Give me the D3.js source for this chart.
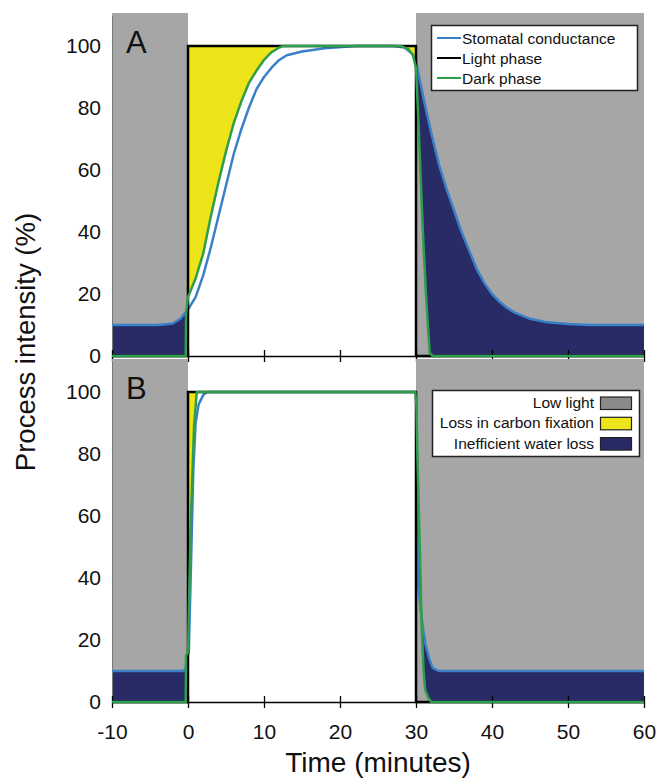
<!DOCTYPE html>
<html>
<head>
<meta charset="utf-8">
<script src="https://cdn.jsdelivr.net/npm/d3@7"></script>
<style>
body { margin: 0; background: #fff; }
svg { display: block; font-family: "Liberation Sans", Arial, sans-serif; }
</style>
</head>
<body>
<div id="chart"></div>
<script>
// data: [time (min), intensity (%)]
var timeTicks = [-10, 0, 10, 20, 30, 40, 50, 60];
var intensityTicks = [0, 20, 40, 60, 80, 100];
var lowLight = [[-10, 0], [30, 60]];
var lightPhase = [[-10, 0], [0, 0], [0, 100], [30, 100], [30, 0], [60, 0]];

var stomatalA = [[-10, 10], [-4, 10], [-2, 10.5], [-1, 12], [0, 15], [1, 19], [2, 26], [3, 35], [4, 45],
    [5, 55], [6, 65], [7, 73], [8, 80], [9, 86], [10, 90], [11, 93], [12, 95.5], [13, 97], [15, 98.2],
    [18, 99.3], [22, 100], [27, 100], [28.5, 99.5], [29.5, 97.5], [30, 95], [31, 83], [32, 72], [33, 62],
    [34, 54], [35, 47], [36, 40], [37, 34], [38, 28], [39, 23.5], [40, 20], [41, 17.5], [42, 15.5],
    [43, 14], [45, 12], [47, 11], [50, 10.3], [53, 10], [60, 10]];
var darkA = [[-10, 0], [-0.3, 0], [-0.25, 14], [0, 19], [1, 25], [2, 33], [3, 45], [4, 56], [5, 66],
    [6, 75], [7, 82], [8, 88], [9, 92], [10, 95.5], [11, 98], [12, 99.5], [12.5, 100], [28, 100],
    [29, 99], [29.6, 97], [30, 93], [30.3, 77], [30.7, 52], [31, 35], [31.4, 16], [31.8, 1], [32.2, 0],
    [60, 0]];

var stomatalB = [[-10, 10], [-0.6, 10], [-0.3, 11], [-0.2, 14], [0.1, 16], [0.4, 45], [0.7, 75],
    [1, 90], [1.4, 96], [2, 99], [2.5, 100], [30, 100], [30.1, 88], [30.2, 60], [30.3, 38], [30.6, 30],
    [30.9, 24], [31.3, 18], [31.8, 13.5], [32.2, 11], [33, 10], [60, 10]];
var darkB = [[-10, 0], [-0.3, 0], [-0.25, 15], [0, 16], [0.35, 57], [0.8, 89], [1.15, 100],
    [29.9, 100], [30.05, 96], [30.2, 78], [30.5, 50], [30.75, 24], [31, 10], [31.2, 4], [31.6, 1.5],
    [32, 0], [60, 0]];

var lineLegend = ["Stomatal conductance", "Light phase", "Dark phase"];
var areaLegend = ["Low light", "Loss in carbon fixation", "Inefficient water loss"];

var colGray = "#a6a6a6";
var colYellow = "#ede51a";
var colNavy = "#292b66";
var colBlue = "#3a80c8";
var colGreen = "#2f9e4a";
var lineColors = [colBlue, "#000", colGreen];
var areaColors = ["#8a8a8a", colYellow, colNavy];

var width = 659, height = 780;
var svg = d3.select("#chart").append("svg")
    .attr("width", width)
    .attr("height", height);

var x = d3.scaleLinear().domain([-10, 60]).range([112, 644]);
var yA = d3.scaleLinear().domain([0, 110]).range([356, 15]);
var yB = d3.scaleLinear().domain([0, 110]).range([702, 361]);

function drawPanel(y, stom, dark, label, showLabels) {
    var g = svg.append("g");
    var line = d3.line().x(function(d) { return x(d[0]); }).y(function(d) { return y(d[1]); });

    // low light background
    g.selectAll("rect.low")
        .data(lowLight)
        .enter()
        .append("rect")
        .attr("x", function(d) { return x(d[0]); })
        .attr("width", function(d) { return x(d[1]) - x(d[0]); })
        .attr("y", y.range()[1] - 2)
        .attr("height", y.range()[0] - y.range()[1] + 2)
        .attr("fill", colGray);

    // loss in carbon fixation: between light phase (100) and dark phase
    var lit = dark.filter(function(d) { return d[0] >= 0 && d[0] <= 30; });
    g.append("path")
        .attr("d", d3.area()
            .x(function(d) { return x(d[0]); })
            .y0(function(d) { return y(d[1]); })
            .y1(y(100))(lit))
        .attr("fill", colYellow);

    // inefficient water loss: between stomatal conductance and dark phase, in the dark
    function between(lo, hi) {
        var inside = function(d) { return d[0] >= lo && d[0] <= hi; };
        return line(stom.filter(inside).concat(dark.filter(inside).reverse())) + "Z";
    }
    g.append("path").attr("d", between(-10, -0.25)).attr("fill", colNavy);
    g.append("path").attr("d", between(30, 60)).attr("fill", colNavy);

    // y axis
    var yAxis = g.append("g")
        .attr("transform", "translate(" + x(-10) + ",0)")
        .call(d3.axisLeft(y).tickValues(intensityTicks).tickSize(0).tickPadding(11));
    yAxis.select(".domain").attr("stroke", "#777").attr("stroke-width", 1);
    yAxis.selectAll("text").attr("font-size", 21).attr("fill", "#111")
        .style("font-family", "Liberation Sans, Arial, sans-serif");

    // x axis
    var xAxis = g.append("g")
        .attr("transform", "translate(0," + y(0) + ")")
        .call(d3.axisBottom(x).tickValues(timeTicks).tickSize(6).tickSizeOuter(0)
            .tickFormat(function(d) { return showLabels ? String(d) : ""; }));
    xAxis.select(".domain").attr("stroke", "#000").attr("stroke-width", 1.5);
    xAxis.selectAll(".tick line").attr("y1", -6).attr("y2", 6).attr("stroke", "#000").attr("stroke-width", 1.3);
    xAxis.selectAll("text").attr("font-size", 21).attr("fill", "#111").attr("y", 22)
        .style("font-family", "Liberation Sans, Arial, sans-serif");

    // curves
    g.append("path").attr("d", line(stom)).attr("fill", "none")
        .attr("stroke", colBlue).attr("stroke-width", 2.5).attr("stroke-linejoin", "round");
    g.append("path").attr("d", line(lightPhase)).attr("fill", "none")
        .attr("stroke", "#000").attr("stroke-width", 2.5);
    g.append("path").attr("d", line(dark)).attr("fill", "none")
        .attr("stroke", colGreen).attr("stroke-width", 2.5).attr("stroke-linejoin", "round");

    g.append("text")
        .attr("x", 126)
        .attr("y", y.range()[1] + 38)
        .attr("font-size", 31)
        .attr("fill", "#111")
        .text(label);
    return g;
}

drawPanel(yA, stomatalA, darkA, "A", false);
drawPanel(yB, stomatalB, darkB, "B", true);

// legend A (lines)
var legA = svg.append("g");
legA.append("rect")
    .attr("x", 431.5).attr("y", 25.5).attr("width", 206).attr("height", 65)
    .attr("fill", "#fff").attr("stroke", "#222").attr("stroke-width", 1.5);
var itemA = legA.selectAll("g.item")
    .data(lineLegend)
    .enter()
    .append("g")
    .attr("transform", function(d, i) { return "translate(0," + (20 * i) + ")"; });
itemA.append("line")
    .attr("x1", 437).attr("x2", 461).attr("y1", 38).attr("y2", 38)
    .attr("stroke", function(d, i) { return lineColors[i]; })
    .attr("stroke-width", 2);
itemA.append("text")
    .attr("x", 462).attr("y", 43.5)
    .attr("font-size", 15.5).attr("fill", "#111")
    .text(function(d) { return d; });

// legend B (areas)
var legB = svg.append("g");
legB.append("rect")
    .attr("x", 432.5).attr("y", 390.5).attr("width", 207).attr("height", 66)
    .attr("fill", "#fff").attr("stroke", "#222").attr("stroke-width", 1.5);
var itemB = legB.selectAll("g.item")
    .data(areaLegend)
    .enter()
    .append("g")
    .attr("transform", function(d, i) { return "translate(0," + (20.3 * i) + ")"; });
itemB.append("rect")
    .attr("x", 600.5).attr("y", 397).attr("width", 31).attr("height", 12.5)
    .attr("fill", function(d, i) { return areaColors[i]; })
    .attr("stroke", "#222").attr("stroke-width", 1.2);
itemB.append("text")
    .attr("x", 594).attr("y", 408)
    .attr("text-anchor", "end")
    .attr("font-size", 15.5).attr("fill", "#111")
    .text(function(d) { return d; });

// axis titles
svg.append("text")
    .attr("transform", "translate(35,342) rotate(-90)")
    .attr("text-anchor", "middle")
    .attr("font-size", 27.5)
    .attr("fill", "#111")
    .text("Process intensity (%)");
svg.append("text")
    .attr("x", 378).attr("y", 772)
    .attr("text-anchor", "middle")
    .attr("font-size", 28)
    .attr("fill", "#111")
    .text("Time (minutes)");
</script>
</body>
</html>
